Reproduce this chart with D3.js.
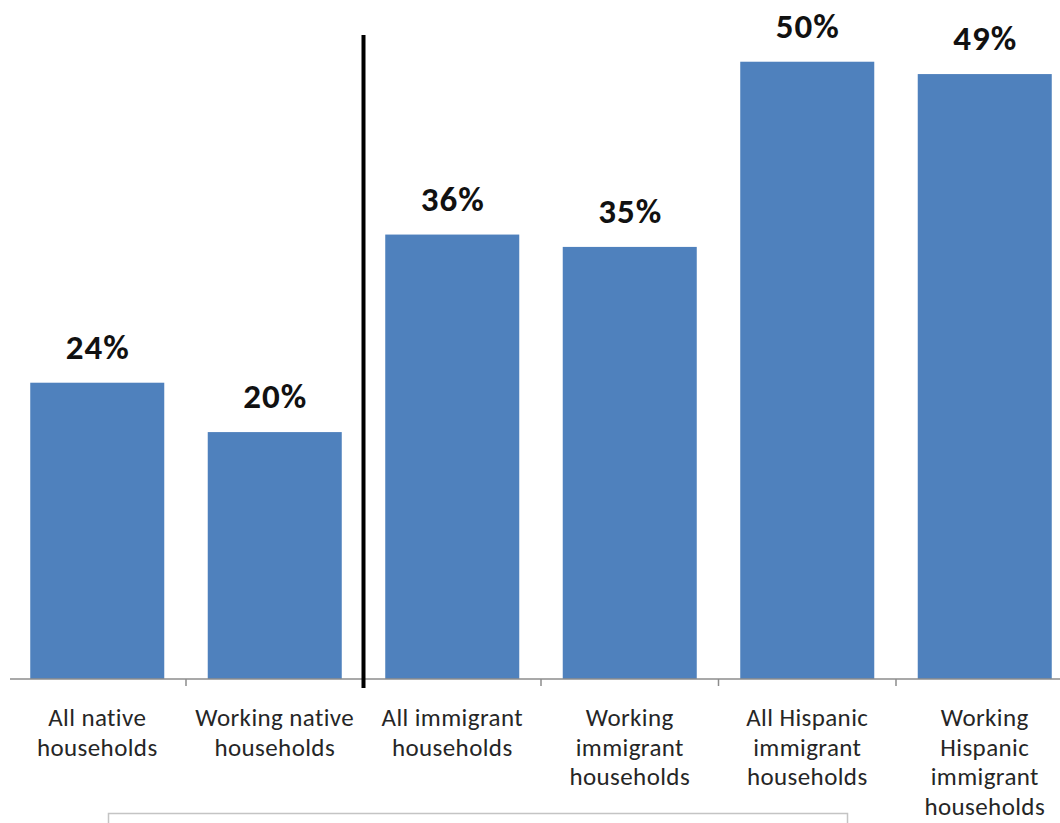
<!DOCTYPE html>
<html>
<head>
<meta charset="utf-8">
<script src="https://cdn.jsdelivr.net/npm/d3@7"></script>
<style>
  html, body { margin: 0; padding: 0; background: #fff; }
  svg { display: block; }
</style>
</head>
<body>
<div class="root"></div>
<script>
const categories = [
  ['All native', 'households'],
  ['Working native', 'households'],
  ['All immigrant', 'households'],
  ['Working', 'immigrant', 'households'],
  ['All Hispanic', 'immigrant', 'households'],
  ['Working', 'Hispanic', 'immigrant', 'households']
]
const values = [24, 20, 36, 35, 50, 49]
const valueLabels = ['24%', '20%', '36%', '35%', '50%', '49%']

const svgWidth = 1060
    , svgHeight = 823
    , baseY = 679
    , plotLeft = 8.5
    , step = 177.5
    , pad = 0.245

const svg = d3.select('.root')
              .append('svg')
              .attr('width', svgWidth)
              .attr('height', svgHeight)

const ids = categories.map((d, i) => i)

const scaleX = d3.scaleBand()
                 .domain(ids)
                 .range([plotLeft, plotLeft + step * ids.length])
                 .paddingInner(pad)
                 .paddingOuter(pad / 2)

const scaleY = d3.scaleLinear()
                 .domain([0, 55])
                 .range([baseY, 0])

const font = 'Carlito, "Open Sans", Lato, sans-serif'

// bars
svg.append('g')
   .selectAll('rect')
   .data(values)
   .enter()
   .append('rect')
   .attr('x', (d, i) => scaleX(i))
   .attr('y', d => scaleY(d))
   .attr('width', scaleX.bandwidth())
   .attr('height', d => baseY - scaleY(d))
   .attr('fill', '#4F81BD')

// value labels
svg.append('g')
   .selectAll('text')
   .data(values)
   .enter()
   .append('text')
   .attr('x', (d, i) => scaleX(i) + scaleX.bandwidth() / 2 + 0.5)
   .attr('y', d => scaleY(d) - 24)
   .attr('text-anchor', 'middle')
   .attr('font-family', font)
   .attr('font-weight', 'bold')
   .attr('font-size', 35)
   .attr('letter-spacing', 1)
   .attr('fill', '#111')
   .text((d, i) => valueLabels[i])

// axis line + ticks between categories
svg.append('line')
   .attr('x1', plotLeft + 1.5).attr('x2', svgWidth)
   .attr('y1', baseY).attr('y2', baseY)
   .attr('stroke', '#8c8c8c').attr('stroke-width', 1.5)

svg.append('g')
   .selectAll('line')
   .data(ids.slice(1))
   .enter()
   .append('line')
   .attr('x1', i => scaleX(i) - scaleX.step() * pad / 2)
   .attr('x2', i => scaleX(i) - scaleX.step() * pad / 2)
   .attr('y1', baseY).attr('y2', baseY + 7)
   .attr('stroke', '#8c8c8c').attr('stroke-width', 1.5)

// category labels
const cat = svg.append('g')
               .selectAll('text')
               .data(categories)
               .enter()
               .append('text')
               .attr('text-anchor', 'middle')
               .attr('font-family', font)
               .attr('font-size', 25)
               .attr('letter-spacing', 0.4)
               .attr('fill', '#262626')

cat.selectAll('tspan')
   .data((d, i) => d.map(line => ({ line, i })))
   .enter()
   .append('tspan')
   .attr('x', d => scaleX(d.i) + scaleX.bandwidth() / 2)
   .attr('y', (d, j) => 726 + j * 29.6)
   .text(d => d.line)

// divider between native and immigrant groups
const divX = scaleX(2) - scaleX.step() * pad / 2
svg.append('line')
   .attr('x1', divX).attr('x2', divX)
   .attr('y1', 35).attr('y2', 688)
   .attr('stroke', '#000').attr('stroke-width', 4)

// note box, cut off at the bottom
svg.append('rect')
   .attr('x', 108.5).attr('y', 813.5)
   .attr('width', 739).attr('height', 30)
   .attr('fill', 'none')
   .attr('stroke', '#c4c4c4').attr('stroke-width', 1.5)
</script>
</body>
</html>
